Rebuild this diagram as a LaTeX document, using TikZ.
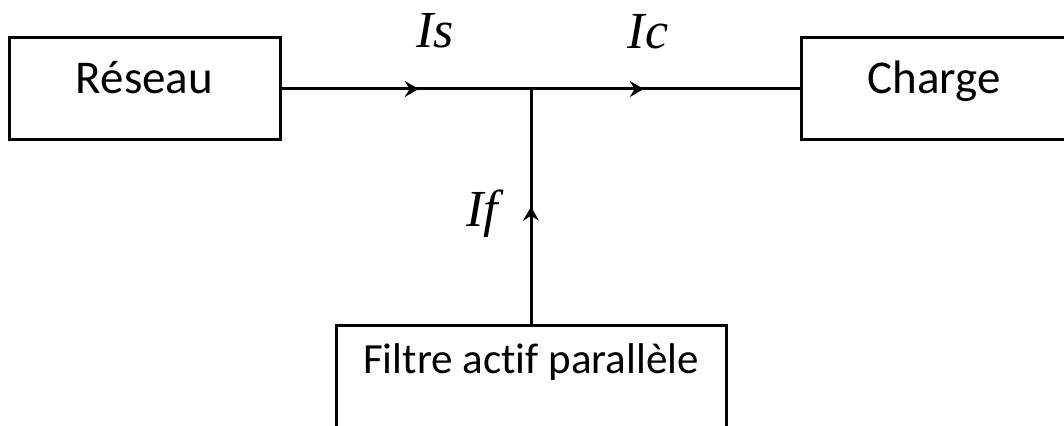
\documentclass[tikz,border=0pt]{standalone}
\usepackage{fontspec}
\setmainfont{Carlito}[Ligatures=NoCommon]
\newfontfamily\seriffont{Liberation Serif}
\usetikzlibrary{arrows.meta,decorations.markings}
\begin{document}
\begin{tikzpicture}[x=0.5pt,y=-0.5pt,line width=1.5pt]
	\tikzset{bloc/.style={draw,inner sep=0pt,anchor=base,font=\fontsize{23.5}{28}\selectfont},
		courant/.style={font=\seriffont\itshape\fontsize{26}{30}\selectfont},
		fleche/.style={postaction={decorate},decoration={markings,mark=at position #1 with {\arrow{Stealth[length=7pt,width=8pt,inset=2.5pt]}}}}}
	\useasboundingbox (0,0) rectangle (1064,426);
	\clip (0,0) rectangle (1064,426);
	\node[bloc,minimum width=135.5pt,text height=28pt,text depth=23pt] (reseau) at (144.5,94) {Réseau};
	\node[bloc,minimum width=133pt,text height=28pt,text depth=23pt] (charge) at (934,94) {Charge};
	\node[bloc,minimum width=195pt,text height=24pt,text depth=27pt,font=\fontsize{21.5}{26}\selectfont] (filtre) at (531,374) {Filtre actif parallèle};
	\coordinate (J) at (531,89);
	\draw[fleche=0.55] (reseau.east) -- (J);
	\draw[fleche=0.42] (J) -- (charge.west);
	\draw[fleche=0.5] (filtre.north) -- (J);
	\node[courant] (is) at (435,31) {Is};
	\node[courant] (ic) at (648,32) {Ic};
	\node[courant] (if) at (482,214) {If};
\end{tikzpicture}
\end{document}
